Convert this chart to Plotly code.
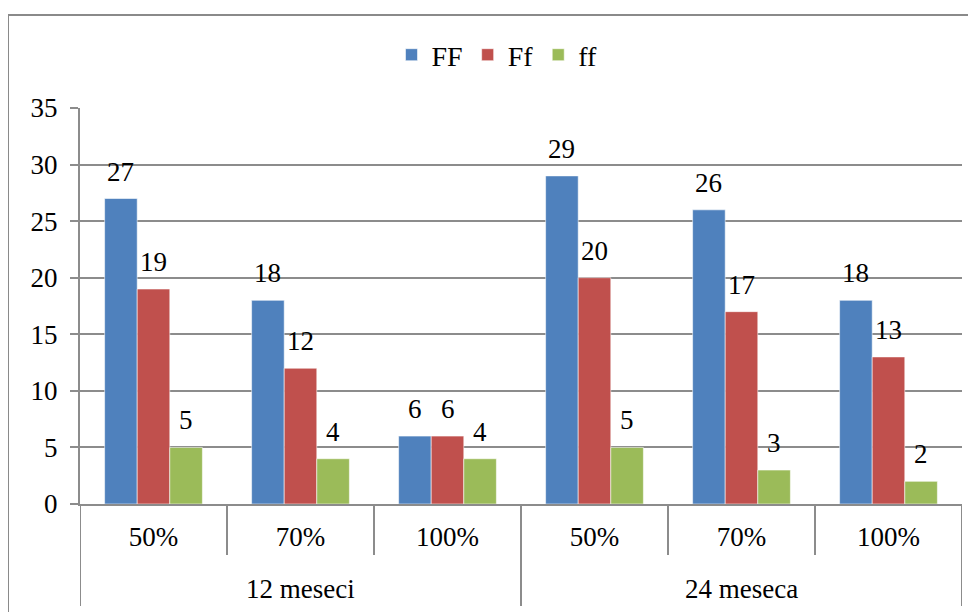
import plotly.graph_objects as go

groups = ["12 meseci", "24 meseca"]
levels = ["50%", "70%", "100%", "50%", "70%", "100%"]
series_names = ["FF", "Ff", "ff"]
FF = [27, 18, 6, 29, 26, 18]
Ff = [19, 12, 6, 20, 17, 13]
ff = [5, 4, 4, 5, 3, 2]
colors = ["#4F81BD", "#C0504D", "#9BBB59"]

FONT = "Liberation Serif"
GRID = "#8C8C8C"
O = 8  # page body margin
VW, VH = 976, 612
W, H = VW - O, VH - O
PX0, PX1, PY0, PY1 = 80, 962, 108, 504
L, R, T, B = PX0 - O, (O + W) - PX1, PY0 - O, (O + H) - PY1
PW, PH = PX1 - PX0, PY1 - PY0

def px_x(p):
    return (p - PX0) / PW

def px_y(p):
    return (PY1 - p) / PH

x = list(range(len(levels)))
values = [FF, Ff, ff]
bargap = 0.335
nser = len(values)
bw = (1 - bargap) / nser

fig = go.Figure()
for name, vals, col in zip(series_names, values, colors):
    fig.add_trace(go.Bar(
        x=x, y=vals, name=name,
        marker=dict(color=col, line=dict(color="rgba(255,255,255,0.55)", width=1)),
    ))

annotations = []
for j, vals in enumerate(values):
    for i, v in enumerate(vals):
        annotations.append(dict(
            x=i + (j - (nser - 1) / 2) * bw, y=v, xref="x", yref="y",
            text=str(v), showarrow=False, yanchor="bottom", yshift=10,
            font=dict(family=FONT, size=27, color="black"),
        ))

ngroup = len(levels) // len(groups)
for g, name in enumerate(groups):
    annotations.append(dict(
        x=g * ngroup + (ngroup - 1) / 2, y=px_y(589), xref="x", yref="paper",
        text=name, showarrow=False, yanchor="middle",
        font=dict(family=FONT, size=27, color="black"),
    ))

shapes = []
for k in range(len(levels) + 1):
    xs = k - 0.5
    outer = (k % ngroup == 0)
    shapes.append(dict(
        type="line", xref="x", yref="paper", x0=xs, x1=xs,
        y0=0, y1=px_y(606 if outer else 555),
        line=dict(color=GRID, width=2),
    ))
shapes.append(dict(
    type="rect", xref="paper", yref="paper",
    x0=px_x(8), x1=px_x(VW + 20), y0=px_y(15), y1=px_y(VH + 20),
    line=dict(color="#8A8A8A", width=2), fillcolor="rgba(0,0,0,0)", layer="below",
))

fig.update_layout(
    width=W, height=H,
    margin=dict(l=L, r=R, t=T, b=B, autoexpand=False),
    paper_bgcolor="white", plot_bgcolor="white",
    barmode="group", bargap=bargap, bargroupgap=0,
    font=dict(family=FONT, size=27, color="black"),
    showlegend=True,
    legend=dict(
        orientation="h", x=px_x(497), xanchor="center", y=px_y(55), yanchor="middle",
        font=dict(family=FONT, size=28, color="black"),
        itemwidth=30, tracegroupgap=0, bgcolor="rgba(0,0,0,0)",
    ),
    xaxis=dict(
        range=[-0.5, len(levels) - 0.5], tickmode="array", tickvals=x, ticktext=levels,
        showgrid=False, zeroline=False, showline=True, linecolor=GRID, linewidth=2,
        ticks="", ticklabelstandoff=8, tickfont=dict(family=FONT, size=27),
        fixedrange=True,
    ),
    yaxis=dict(
        range=[0, 35], dtick=5, tick0=0, showgrid=True, gridcolor=GRID, gridwidth=2,
        zeroline=False, showline=True, linecolor=GRID, linewidth=2,
        ticks="outside", ticklen=8, tickcolor=GRID, tickwidth=2,
        ticklabelstandoff=7, tickfont=dict(family=FONT, size=27),
        fixedrange=True,
    ),
    annotations=annotations, shapes=shapes,
)

fig.write_html("out.html")
